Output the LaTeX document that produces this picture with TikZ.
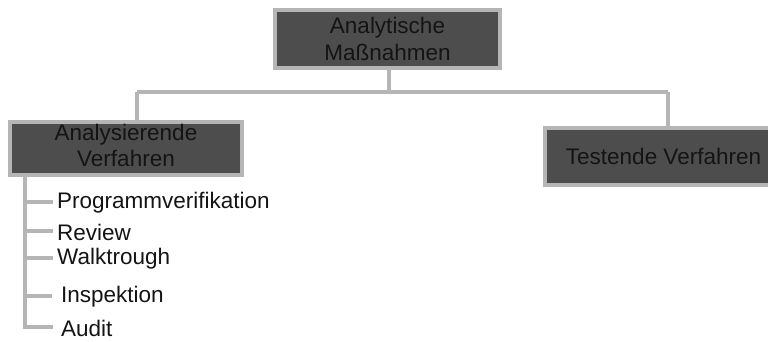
\documentclass[tikz,border=0pt]{standalone}
\usepackage{fontspec}
\setmainfont{Liberation Sans}
\definecolor{boxfill}{HTML}{4D4D4D}
\definecolor{edge}{HTML}{B5B5B5}
\definecolor{ink}{HTML}{141414}
\tikzset{
  box/.style={draw=edge, line width=3.5pt, fill=boxfill, text=ink, align=center,
    inner sep=0pt, font=\fontsize{22.5}{27}\selectfont},
  link/.style={draw=edge, line width=3.5pt},
  item/.style={anchor=west, inner sep=0pt, text=ink, font=\fontsize{22.5}{27}\selectfont}
}
\begin{document}
\begin{tikzpicture}[x=1pt,y=-1pt]
\useasboundingbox (0,0) rectangle (768,341);
\node[box, minimum width=225pt, minimum height=58pt] (top) at (387.5,39) {Analytische\\Maßnahmen};
\node[box, minimum width=232pt, minimum height=53pt] (left) at (126,148.5) {\raisebox{-3pt}{\begin{tabular}{@{}c@{}}Analysierende\\[-1pt]Verfahren\end{tabular}}};
\node[box, minimum width=226pt, minimum height=57pt] (right) at (658,156.5) {\hspace*{11pt}Testende Verfahren};
\coordinate (jl) at (137,92);
\coordinate (jr) at (668,92);
\draw[link] (389,68) -- (389,92);
\draw[link] (jl) -- (jr);
\draw[link] (jl) -- (jl |- left.north);
\draw[link] (jr) -- (jr |- right.north);
% list
\coordinate (s0) at (25,175);
\node[item] (i1) at (57,203) {Programmverifikation};
\node[item] (i2) at (57,232) {Review};
\node[item] (i3) at (57,259) {Walktrough};
\node[item] (i4) at (61,297) {Inspektion};
\node[item] (i5) at (61,328) {Audit};
\draw[link] (s0) -- (25,327) -- (53,327);
\draw[link] (25,202) -- (53,202);
\draw[link] (25,231) -- (53,231);
\draw[link] (25,258) -- (53,258);
\draw[link] (25,296) -- (52,296);
\end{tikzpicture}
\end{document}
